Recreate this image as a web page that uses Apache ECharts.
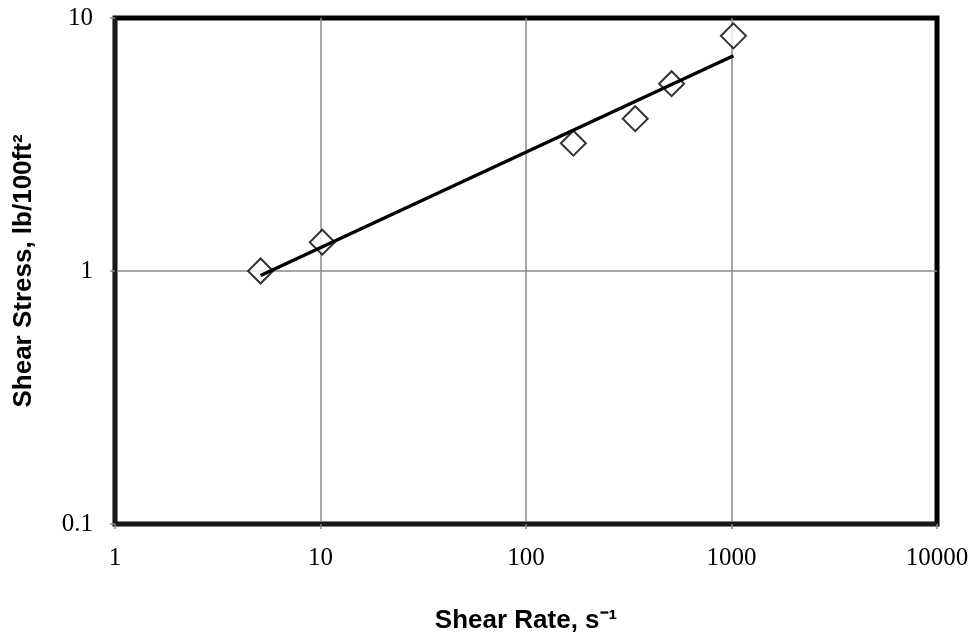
<!DOCTYPE html>
<html>
<head>
<meta charset="utf-8">
<script src="https://cdn.jsdelivr.net/npm/echarts@6/dist/echarts.min.js"></script>
<style>html,body{margin:0;padding:0;background:#fff}#c{width:973px;height:636px}</style>
</head>
<body>
<div id="c"></div>
<script>
const shearRate = [5.11, 10.2, 170, 340, 511, 1022];
const shearStress = [1.0, 1.3, 3.2, 4.0, 5.5, 8.5];
const fitRate = [5.11, 1022];
const fitStress = [0.96, 7.09];
const xTitle = 'Shear Rate, s\u207B\u00B9';
const yTitle = 'Shear Stress, lb/100ft\u00B2';

const chart = echarts.init(document.getElementById('c'));
const serif = '"Liberation Serif", "Times New Roman", serif';
const sans = '"Liberation Sans", Arial, sans-serif';
chart.setOption({
  animation: false,
  backgroundColor: '#fff',
  grid: { left: 115, right: 36, top: 18, bottom: 112, containLabel: false, outerBoundsMode: 'none', show: true, borderColor: '#000', borderWidth: 5, backgroundColor: 'transparent' },
  xAxis: {
    type: 'log', logBase: 10, min: 1, max: 10000,
    name: xTitle, nameLocation: 'middle', nameGap: 84,
    nameTextStyle: { fontFamily: sans, fontWeight: 'bold', fontSize: 26, color: '#000' },
    axisLine: { show: true, lineStyle: { color: '#1a1a1a', width: 4 } },
    axisTick: { show: true, length: 5, lineStyle: { color: '#888', width: 1.5 } },
    minorTick: { show: false },
    axisLabel: { fontFamily: serif, fontSize: 25, color: '#000', margin: 22, formatter: v => String(v) },
    splitLine: { show: true, showMinLine: false, showMaxLine: false, lineStyle: { color: '#8a8a8a', width: 1.5 } }
  },
  yAxis: {
    type: 'log', logBase: 10, min: 0.1, max: 10,
    name: yTitle, nameLocation: 'middle', nameGap: 78, nameRotate: 90,
    nameTextStyle: { fontFamily: sans, fontWeight: 'bold', fontSize: 26, color: '#000' },
    axisLine: { show: true, lineStyle: { color: '#1a1a1a', width: 4 } },
    axisTick: { show: true, length: 5, lineStyle: { color: '#888', width: 1.5 } },
    axisLabel: { fontFamily: serif, fontSize: 25, color: '#000', margin: 22, formatter: v => (v < 1 ? v.toFixed(1) : String(Math.round(v))) },
    splitLine: { show: true, showMinLine: false, showMaxLine: false, lineStyle: { color: '#8a8a8a', width: 1.5 } }
  },
  series: [
    {
      type: 'scatter',
      data: shearRate.map((x, i) => [x, shearStress[i]]),
      symbol: 'diamond', symbolSize: 25,
      itemStyle: { color: '#fff', borderColor: '#000', borderWidth: 2 },
      z: 3
    },
    {
      type: 'line',
      data: fitRate.map((x, i) => [x, fitStress[i]]),
      showSymbol: false, symbol: 'none',
      lineStyle: { color: '#000', width: 3.5 },
      z: 4
    }
  ]
});
</script>
</body>
</html>
